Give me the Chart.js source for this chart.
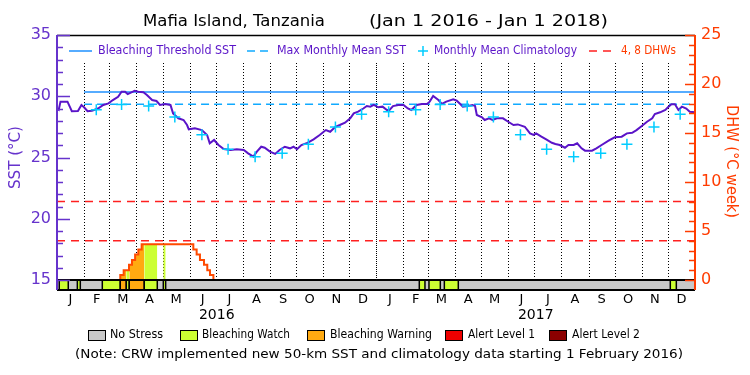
<!DOCTYPE html>
<html>
<head>
<meta charset="utf-8">
<script src="https://cdn.jsdelivr.net/npm/chart.js@4.4.1/dist/chart.umd.min.js"></script>
<style>
  html, body { margin: 0; padding: 0; background: #fff; }
</style>
</head>
<body>
<canvas id="chart" width="750" height="375"></canvas>
<script>
"use strict";

// x values are days since Jan 1 2016 (731 = Jan 1 2018)
const sstDays = [0, 2, 4, 12, 17, 24, 28, 31, 35, 40, 47, 53, 59, 64, 70, 74, 78, 81, 87, 89, 93, 99, 103, 109, 114, 118, 124, 130, 133, 139,
  145, 149, 151, 158, 166, 172, 175, 180, 185, 191, 199, 206, 214, 219, 225, 229, 234, 238, 244, 250, 255, 261, 267, 271, 275, 280,
  286, 294, 301, 308, 313, 319, 324, 330, 336, 340, 345, 351, 355, 359, 363, 368, 373, 378, 381, 385, 391, 397, 402, 406, 412, 418,
  424, 427, 431, 437, 441, 446, 454, 458, 462, 465, 471, 476, 479, 481, 487, 490, 495, 499, 504, 511, 517, 523, 528, 536, 542, 546,
  549, 555, 561, 567, 571, 576, 582, 586, 592, 596, 601, 605, 613, 618, 624, 632, 639, 647, 653, 659, 664, 670, 676, 682, 685, 691,
  697, 700, 704, 708, 712, 716, 721, 725, 731];
const sstValues = [29.0, 28.9, 29.56, 29.56, 28.78, 28.8, 29.29, 29.1, 28.78, 28.82, 29.0, 29.29, 29.42, 29.69, 29.96, 30.37, 30.37,
  30.18, 30.37, 30.45, 30.37, 30.32, 30.1, 29.69, 29.61, 29.29, 29.37, 29.29, 28.6, 28.2, 28.06, 27.65, 27.3, 27.38, 27.24, 26.84,
  26.16, 26.43, 26.02, 25.69, 25.61, 25.67, 25.61, 25.34, 25.07, 25.48, 25.88, 25.8, 25.48, 25.29, 25.61, 25.88, 25.75, 25.88, 25.67,
  26.02, 26.16, 26.48, 26.84, 27.24, 27.1, 27.51, 27.65, 27.84, 28.2, 28.6, 28.74, 29.0, 29.2, 29.15, 29.29, 29.1, 29.15, 28.88,
  28.88, 29.2, 29.29, 29.29, 29.0, 28.88, 29.29, 29.37, 29.37, 29.56, 30.02, 29.69, 29.37, 29.56, 29.75, 29.64, 29.37, 29.15, 29.2,
  29.29, 29.2, 28.47, 28.28, 28.06, 28.2, 28.06, 28.2, 28.2, 27.92, 27.65, 27.7, 27.51, 26.97, 26.84, 26.97, 26.7, 26.46, 26.2,
  26.1, 26.02, 25.8, 26.02, 26.02, 26.16, 25.75, 25.56, 25.56, 25.75, 26.02, 26.38, 26.65, 26.7, 26.97, 27.02, 27.24, 27.57, 27.92,
  28.2, 28.55, 28.69, 28.88, 29.1, 29.34, 29.34, 28.88, 29.15, 29.0, 28.74, 28.69];

// monthly mean climatology, Jan 2016 .. Dec 2017 (new product starts Feb 2016)
const climValues = [null, 28.9, 29.32, 29.2, 28.3, 26.86, 25.67, 25.07, 25.34, 26.08, 27.5, 28.53,
  28.74, 28.9, 29.32, 29.2, 28.3, 26.86, 25.67, 25.07, 25.34, 26.08, 27.5, 28.53];

const bleachingThreshold = 30.35;
const maxMonthlyMean = 29.35;
const dhwLevels = [4, 8];

// degree heating weeks, stepped (value holds from that day on)
const dhwDays = [0, 72.5, 76.4, 82.5, 85.9, 89.5, 93.2, 97, 156.2, 160, 163.8, 168.4, 172.2, 175.3, 179.2, 731];
const dhwValues = [0, 0.5, 1.0, 1.55, 2.05, 2.6, 3.1, 3.65, 3.1, 2.6, 2.05, 1.55, 1.0, 0.5, 0, 0];

// stress level periods: 1 = Bleaching Watch, 2 = Bleaching Warning
const stressStart = [2.6, 23.3, 51.9, 72.5, 79.4, 82.8, 100, 121.8, 415.1, 426.2, 443.8, 702.7];
const stressEnd = [12.9, 26.7, 72.5, 79.4, 82.8, 100, 114.9, 124.5, 421.6, 439.2, 459.8, 709.6];
const stressLevel = [1, 1, 1, 2, 1, 2, 1, 1, 1, 1, 1, 1];

const monthLetters = ["J", "F", "M", "A", "M", "J", "J", "A", "S", "O", "N", "D"];
const yearLabels = ["2016", "2017"];
const sstTicks = [15, 20, 25, 30, 35];
const dhwTicks = [0, 5, 10, 15, 20, 25];
const stressNames = ["No Stress", "Bleaching Watch", "Bleaching Warning", "Alert Level 1", "Alert Level 2"];
const stressColors = ["#c8c8c8", "#ccff33", "#ffaa11", "#ee0000", "#8b0000"];

const purple = "#5a14c8";
const axisPurple = "#6633cc";
const orangeRed = "#ff3c00";
const FONT = "'DejaVu Sans', sans-serif";

const DAY0 = Date.UTC(2016, 0, 1);
const dayOf = (y, m, d) => (Date.UTC(y, m, d) - DAY0) / 86400000;

const monthStarts = [];
for (let i = 0; i <= 24; i++) monthStarts.push(dayOf(2016 + Math.floor(i / 12), i % 12, 1));
const monthMids = monthStarts.slice(0, 24).map((d, i) => (d + monthStarts[i + 1]) / 2);
const climDays = monthStarts.slice(0, 24).map(d => d + 14);
const yearMids = yearLabels.map((y, i) => (monthStarts[i * 12] + monthStarts[i * 12 + 12]) / 2);

function dhwAt(day) {
  let v = 0;
  dhwDays.forEach((d, i) => { if (d <= day) v = dhwValues[i]; });
  return v;
}

// DHW area coloured by the stress level of each period
function stressFill(level) {
  const pts = [];
  stressStart.forEach((s, i) => {
    if (stressLevel[i] !== level) return;
    const e = stressEnd[i];
    pts.push({ x: s, y: dhwAt(s) });
    dhwDays.forEach((d, j) => { if (d > s && d < e) pts.push({ x: d, y: dhwValues[j] }); });
    pts.push({ x: e, y: dhwAt(e - 0.001) });
    pts.push({ x: e, y: null });
  });
  return pts;
}

function stretchText(ctx, text, x, y, width, font, color, angle) {
  ctx.save();
  ctx.font = font;
  ctx.fillStyle = color;
  ctx.textBaseline = "middle";
  ctx.textAlign = "left";
  const w = ctx.measureText(text).width;
  ctx.translate(x, y);
  if (angle) ctx.rotate(angle);
  ctx.scale(width / w, 1);
  ctx.fillText(text, 0, 0);
  ctx.restore();
}

function hline(ctx, x0, x1, y, color, width, dash) {
  ctx.save();
  ctx.strokeStyle = color;
  ctx.lineWidth = width;
  ctx.setLineDash(dash || []);
  ctx.beginPath();
  ctx.moveTo(x0, y);
  ctx.lineTo(x1, y);
  ctx.stroke();
  ctx.restore();
}

const decor = {
  id: "decor",
  beforeDatasetsDraw(chart) {
    const { ctx, chartArea: a, scales: { x, y } } = chart;
    const yTop = a.top + 28;
    const yBot = y.getPixelForValue(15);
    ctx.save();
    ctx.strokeStyle = "#000";
    ctx.lineWidth = 1;
    monthStarts.forEach((d, i) => {
      if (i === 0 || i === monthStarts.length - 1) return;
      const px = Math.round(x.getPixelForValue(d)) + 0.5;
      ctx.setLineDash(i % 12 === 0 ? [1, 1] : [1, 2]);
      ctx.beginPath();
      ctx.moveTo(px, yTop);
      ctx.lineTo(px, yBot);
      ctx.stroke();
    });
    ctx.restore();
  },
  afterDatasetsDraw(chart) {
    const { ctx, chartArea: a, scales: { x, y, y2 } } = chart;
    const yb = y.getPixelForValue(15);

    // stress bar
    ctx.save();
    ctx.fillStyle = stressColors[0];
    ctx.fillRect(a.left, yb, a.right - a.left, a.bottom - yb);
    ctx.strokeStyle = "#000";
    ctx.lineWidth = 1.5;
    stressStart.forEach((s, i) => {
      const x0 = x.getPixelForValue(s), x1 = x.getPixelForValue(stressEnd[i]);
      ctx.fillStyle = stressColors[stressLevel[i]];
      ctx.fillRect(x0, yb, x1 - x0, a.bottom - yb);
      [x0, x1].forEach(px => {
        ctx.beginPath();
        ctx.moveTo(px, yb);
        ctx.lineTo(px, a.bottom);
        ctx.stroke();
      });
    });
    ctx.restore();
    hline(ctx, a.left, a.right, yb, "#000", 2);
    hline(ctx, a.left, a.right, a.bottom, "#000", 2);
    hline(ctx, a.left, a.right, a.top + 0.5, "#000", 1.5);

    // axis lines and inward ticks
    ctx.save();
    ctx.lineWidth = 2;
    ctx.strokeStyle = axisPurple;
    ctx.beginPath(); ctx.moveTo(a.left, a.top); ctx.lineTo(a.left, a.bottom); ctx.stroke();
    ctx.strokeStyle = orangeRed;
    ctx.beginPath(); ctx.moveTo(a.right, a.top); ctx.lineTo(a.right, a.bottom); ctx.stroke();
    ctx.lineWidth = 1.5;
    ctx.strokeStyle = axisPurple;
    y.ticks.forEach(t => {
      const py = Math.round(y.getPixelForValue(t.value)) + 0.5;
      const len = t.value % 5 === 0 ? 13 : 6;
      ctx.beginPath(); ctx.moveTo(a.left, py); ctx.lineTo(a.left + len, py); ctx.stroke();
    });
    ctx.strokeStyle = orangeRed;
    y2.ticks.forEach(t => {
      const py = Math.round(y2.getPixelForValue(t.value)) + 0.5;
      const len = t.value % 5 === 0 ? 10 : 6;
      ctx.beginPath(); ctx.moveTo(a.right, py); ctx.lineTo(a.right - len, py); ctx.stroke();
    });
    ctx.restore();
  },
  afterDraw(chart) {
    const { ctx } = chart;
    // title
    stretchText(ctx, "Mafia Island, Tanzania", 143, 22, 182, "16px " + FONT, "#000");
    stretchText(ctx, "(Jan 1 2016 - Jan 1 2018)", 369, 22, 239, "16px " + FONT, "#000");

    // legend inside the plot
    const ly = 51;
    hline(ctx, 69, 92, ly, "#1e90ff", 1.5);
    stretchText(ctx, "Bleaching Threshold SST", 98, ly, 138, "13px " + FONT, purple);
    hline(ctx, 247, 268, ly, "#10aaff", 1.5, [8, 5]);
    stretchText(ctx, "Max Monthly Mean SST", 277, ly, 129, "13px " + FONT, purple);
    hline(ctx, 418, 428, ly, "#00ccff", 1.5);
    ctx.save();
    ctx.strokeStyle = "#00ccff"; ctx.lineWidth = 1.5;
    ctx.beginPath(); ctx.moveTo(423, ly - 5); ctx.lineTo(423, ly + 5); ctx.stroke();
    ctx.restore();
    stretchText(ctx, "Monthly Mean Climatology", 434, ly, 143, "13px " + FONT, purple);
    hline(ctx, 589, 613, ly, "#ff2020", 1.5, [8, 6]);
    stretchText(ctx, "4, 8 DHWs", 621, ly, 55, "13px " + FONT, orangeRed);

    // axis titles
    stretchText(ctx, "SST (°C)", 16, 189, 63, "16px " + FONT, axisPurple, -Math.PI / 2);
    stretchText(ctx, "DHW (°C week)", 731, 105, 113, "16px " + FONT, orangeRed, Math.PI / 2);

    // stress legend
    const boxX = [88, 180, 307, 445, 549];
    const textX = [110, 202, 330, 468, 572];
    const textW = [53, 88, 102, 67, 68];
    stressNames.forEach((name, i) => {
      ctx.save();
      ctx.fillStyle = stressColors[i];
      ctx.fillRect(boxX[i], 330, 17, 10);
      ctx.strokeStyle = "#000"; ctx.lineWidth = 1;
      ctx.strokeRect(boxX[i] + 0.5, 330.5, 17, 10);
      ctx.restore();
      stretchText(ctx, name, textX[i], 335, textW[i], "13px " + FONT, "#000");
    });
    stretchText(ctx, "(Note: CRW implemented new 50-km SST and climatology data starting 1 February 2016)",
      75, 355, 608, "13px " + FONT, "#000");
  }
};

const pointsOf = (xs, ys) => xs.map((d, i) => ({ x: d, y: ys[i] }));

new Chart(document.getElementById("chart"), {
  type: "line",
  data: {
    datasets: [
      {
        label: "Monthly Mean Climatology",
        data: pointsOf(climDays, climValues),
        showLine: false, pointStyle: "cross", pointRadius: 5.5,
        borderColor: "#00ccff", pointBorderWidth: 1.5, order: 0
      },
      {
        label: "SST",
        data: pointsOf(sstDays, sstValues),
        borderColor: purple, borderWidth: 2, pointRadius: 0, order: 1
      },
      {
        label: "Bleaching Threshold SST",
        data: [{ x: monthStarts[1], y: bleachingThreshold }, { x: monthStarts[24], y: bleachingThreshold }],
        borderColor: "#1e90ff", borderWidth: 1.5, pointRadius: 0, order: 2
      },
      {
        label: "Max Monthly Mean SST",
        data: [{ x: monthStarts[1], y: maxMonthlyMean }, { x: monthStarts[24], y: maxMonthlyMean }],
        borderColor: "#10aaff", borderWidth: 1.5, borderDash: [8, 5], pointRadius: 0, order: 3
      },
      ...dhwLevels.map(v => ({
        label: v + " DHW",
        data: [{ x: monthStarts[0], y: v }, { x: monthStarts[24], y: v }],
        yAxisID: "y2", borderColor: "#ff2020", borderWidth: 1.5, borderDash: [8, 6], pointRadius: 0, order: 4
      })),
      {
        label: "DHW",
        data: pointsOf(dhwDays, dhwValues),
        yAxisID: "y2", stepped: "before", borderColor: "#ff4a00", borderWidth: 2, pointRadius: 0, order: 5
      },
      ...[1, 2].map(level => ({
        label: stressNames[level],
        data: stressFill(level),
        yAxisID: "y2", stepped: "before", fill: "origin", spanGaps: false,
        backgroundColor: stressColors[level], borderColor: "transparent", borderWidth: 0,
        pointRadius: 0, order: 6 + level
      }))
    ]
  },
  options: {
    responsive: false,
    animation: false,
    events: [],
    layout: { padding: { top: 35, left: 0, right: 0, bottom: 0 } },
    plugins: { legend: { display: false }, tooltip: { enabled: false }, title: { display: false } },
    scales: {
      x: {
        type: "linear", position: "bottom", min: 0, max: monthStarts[24], weight: 0,
        afterFit: s => { s.height = 17; },
        afterBuildTicks: s => { s.ticks = monthMids.map(v => ({ value: v })); },
        grid: { display: false, drawTicks: false },
        border: { display: false },
        ticks: {
          autoSkip: false, maxRotation: 0, minRotation: 0, padding: 2, color: "#000",
          font: { family: FONT, size: 13 },
          callback: (v, i) => monthLetters[i % 12]
        }
      },
      x2: {
        type: "linear", position: "bottom", min: 0, max: monthStarts[24], weight: 1,
        afterFit: s => { s.height = 68; },
        afterBuildTicks: s => { s.ticks = yearMids.map(v => ({ value: v })); },
        grid: { display: false, drawTicks: false },
        border: { display: false },
        ticks: {
          autoSkip: false, maxRotation: 0, minRotation: 0, padding: 0, color: "#000",
          font: { family: FONT, size: 14 },
          callback: (v, i) => yearLabels[i]
        }
      },
      y: {
        type: "linear", position: "left", min: 15 - 10 / 12.25, max: 35,
        afterFit: s => { s.width = 57; },
        afterBuildTicks: s => {
          const t = [];
          for (let v = sstTicks[0]; v <= sstTicks[sstTicks.length - 1]; v++) t.push({ value: v });
          s.ticks = t;
        },
        grid: { display: false, drawTicks: false },
        border: { display: false },
        ticks: {
          autoSkip: false, padding: 6, color: axisPurple, font: { family: FONT, size: 16 },
          callback: v => sstTicks.includes(v) ? String(v) : ""
        }
      },
      y2: {
        type: "linear", position: "right", min: -25 * 10 / 245, max: 25,
        afterFit: s => { s.width = 55; },
        afterBuildTicks: s => {
          const t = [];
          for (let v = dhwTicks[0]; v <= dhwTicks[dhwTicks.length - 1]; v++) t.push({ value: v });
          s.ticks = t;
        },
        grid: { display: false, drawTicks: false },
        border: { display: false },
        ticks: {
          autoSkip: false, padding: 6, color: orangeRed, font: { family: FONT, size: 16 },
          callback: v => dhwTicks.includes(v) ? String(v) : ""
        }
      }
    }
  },
  plugins: [decor]
});
</script>
</body>
</html>
